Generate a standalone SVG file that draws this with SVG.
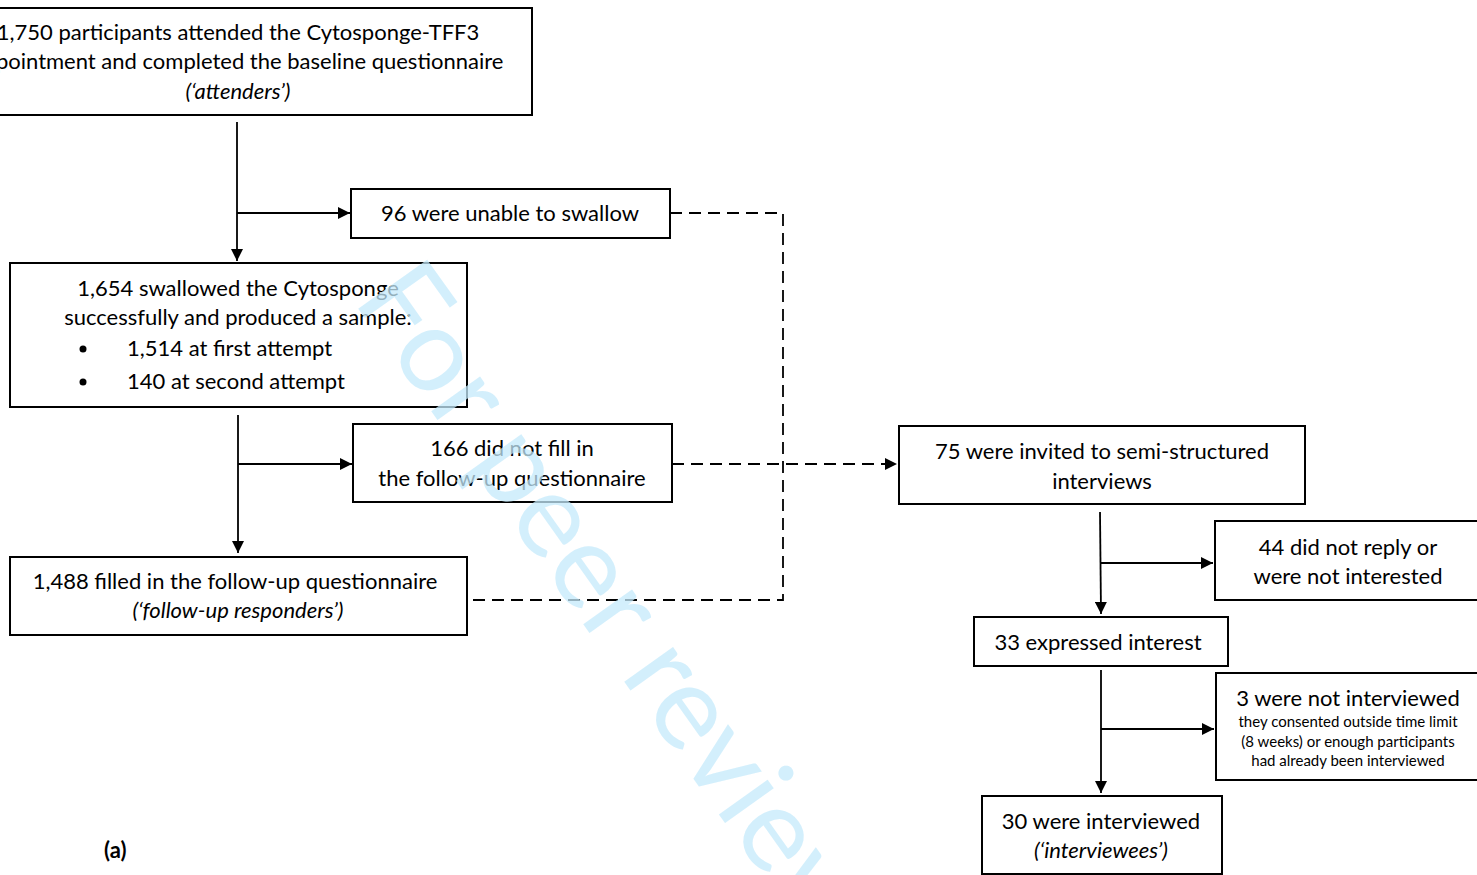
<svg xmlns="http://www.w3.org/2000/svg" width="1477" height="875" viewBox="0 0 1477 875">
<defs>
<marker id="arr" markerWidth="13" markerHeight="12" refX="12" refY="6" orient="auto" markerUnits="userSpaceOnUse">
<path d="M0,0 L12,6 L0,12 z" fill="#000"/>
</marker>
<style>
.box{fill:#fff;stroke:#000;stroke-width:2}
.t{font-family:Lato,"Liberation Sans",sans-serif;font-size:22px;fill:#000;text-anchor:middle}
.s{font-family:Lato,"Liberation Sans",sans-serif;font-size:15px;fill:#000;text-anchor:middle}
.i{font-style:italic}
.ln{stroke:#000;stroke-width:1.8;fill:none}
.dl{stroke:#000;stroke-width:1.8;fill:none;stroke-dasharray:12 7}
.wm{font-family:Lato,"Liberation Sans",sans-serif;font-size:118px;fill:#c4e9fb;fill-opacity:0.75}
</style>
</defs>
<rect width="1477" height="875" fill="#fff"/>
<g id="connectors">
<line class="ln" x1="237" y1="122" x2="237" y2="261" marker-end="url(#arr)"/>
<line class="ln" x1="237" y1="213" x2="350" y2="213" marker-end="url(#arr)"/>
<line class="ln" x1="238" y1="415" x2="238" y2="553" marker-end="url(#arr)"/>
<line class="ln" x1="238" y1="464" x2="352" y2="464" marker-end="url(#arr)"/>
<polyline class="dl" points="670,213 783,213 783,600 467,600"/>
<line class="dl" x1="672" y1="464" x2="897" y2="464" marker-end="url(#arr)"/>
<line class="ln" x1="1100" y1="512" x2="1101" y2="614" marker-end="url(#arr)"/>
<line class="ln" x1="1100" y1="563" x2="1213" y2="563" marker-end="url(#arr)"/>
<line class="ln" x1="1101" y1="670" x2="1101" y2="793" marker-end="url(#arr)"/>
<line class="ln" x1="1101" y1="729" x2="1214" y2="729" marker-end="url(#arr)"/>
</g>
<g id="attenders">
<rect class="box" x="-56" y="8" width="588" height="107"/>
<text class="t" x="238" y="40">1,750 participants attended the Cytosponge-TFF3</text>
<text class="t" x="238" y="69">appointment and completed the baseline questionnaire</text>
<text class="t i" x="238" y="99">(‘attenders’)</text>
</g>
<g id="unable">
<rect class="box" x="351" y="189" width="319" height="49"/>
<text class="t" x="510" y="221">96 were unable to swallow</text>
</g>
<g id="swallowed">
<rect class="box" x="10" y="263" width="457" height="144"/>
<text class="t" x="238" y="296">1,654 swallowed the Cytosponge</text>
<text class="t" x="238" y="325">successfully and produced a sample:</text>
<circle cx="83" cy="349" r="3.5" fill="#000"/>
<text class="t" x="127" y="356" style="text-anchor:start">1,514 at first attempt</text>
<circle cx="83" cy="382" r="3.5" fill="#000"/>
<text class="t" x="127" y="389" style="text-anchor:start">140 at second attempt</text>
</g>
<g id="notfilled">
<rect class="box" x="353" y="424" width="319" height="78"/>
<text class="t" x="512" y="456">166 did not fill in</text>
<text class="t" x="512" y="486">the follow-up questionnaire</text>
</g>
<g id="responders">
<rect class="box" x="10" y="557" width="457" height="78"/>
<text class="t" x="235" y="589">1,488 filled in the follow-up questionnaire</text>
<text class="t i" x="238" y="618">(‘follow-up responders’)</text>
</g>
<g id="invited">
<rect class="box" x="899" y="426" width="406" height="78"/>
<text class="t" x="1102" y="459">75 were invited to semi-structured</text>
<text class="t" x="1102" y="489">interviews</text>
</g>
<g id="noreply">
<rect class="box" x="1215" y="521" width="266" height="79"/>
<text class="t" x="1348" y="555">44 did not reply or</text>
<text class="t" x="1348" y="584">were not interested</text>
</g>
<g id="interest">
<rect class="box" x="974" y="617" width="254" height="49"/>
<text class="t" x="1098" y="650">33 expressed interest</text>
</g>
<g id="notinterviewed">
<rect class="box" x="1216" y="673" width="265" height="107"/>
<text class="t" x="1348" y="706">3 were not interviewed</text>
<text class="s" x="1348" y="727">they consented outside time limit</text>
<text class="s" x="1348" y="747">(8 weeks) or enough participants</text>
<text class="s" x="1348" y="766">had already been interviewed</text>
</g>
<g id="interviewed">
<rect class="box" x="982" y="796" width="240" height="78"/>
<text class="t" x="1101" y="829">30 were interviewed</text>
<text class="t i" x="1101" y="858">(‘interviewees’)</text>
</g>
<g id="label">
<text class="t" x="104" y="858" style="text-anchor:start;font-weight:bold">(a)</text>
</g>
<g id="watermark">
<text class="wm" transform="translate(352,300) rotate(54.5)">For peer review</text>
</g>
</svg>
